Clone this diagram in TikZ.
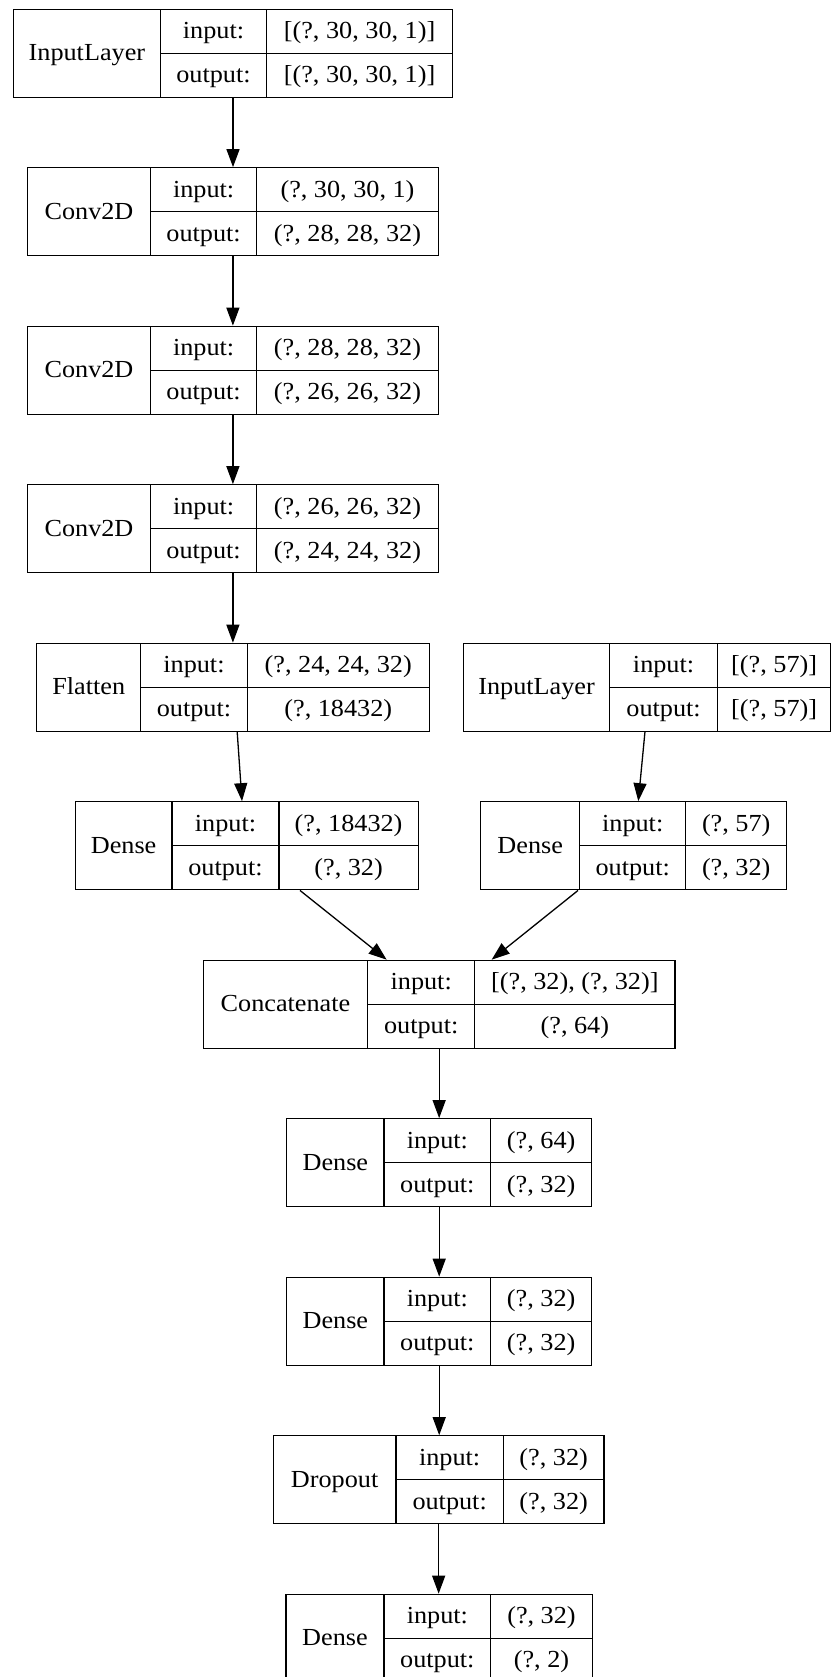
\documentclass[tikz,border=0pt]{standalone}
\usepackage{fontspec}
\setmainfont{Liberation Serif}[FakeStretch=1.07]
\usetikzlibrary{arrows.meta}

% One layer record: name, left x, first divider, second divider, right x,
% top y, layer type, input shape, output shape
\newcommand{\kerasbox}[9]{%
  \node[layerbox, minimum width={(#5-#2)*1pt}] (#1) at ({(#2+#5)/2},{#6+44}) {};
  \draw[cellline] (#3,#6) -- (#3,{#6+88});
  \draw[cellline] (#4,#6) -- (#4,{#6+88});
  \draw[cellline] (#3,{#6+44}) -- (#5,{#6+44});
  \node[txt] (#1-l)  at ({(#2+#3)/2},{#6+44+7.5}) {#7};
  \node[txt] (#1-ik) at ({(#3+#4)/2},{#6+22+7.5}) {input:};
  \node[txt] (#1-iv) at ({(#4+#5)/2},{#6+22+7.5}) {#8};
  \node[txt] (#1-ok) at ({(#3+#4)/2},{#6+66+7.5}) {output:};
  \node[txt] (#1-ov) at ({(#4+#5)/2},{#6+66+7.5}) {#9};
}

\begin{document}
\begin{tikzpicture}[x=1pt,y=-1pt,
  font=\fontsize{24.5}{29}\selectfont,
  layerbox/.style={draw, line width=1.3pt, rectangle, minimum height=88pt, inner sep=0pt},
  cellline/.style={line width=1.3pt},
  txt/.style={anchor=base, inner sep=0pt},
  arr/.style={line width=1.3pt, -{Triangle[length=18pt, width=13pt]}}]
\useasboundingbox (0,0) rectangle (830,1677);
\fill[white] (0,0) rectangle (830,1677);

\kerasbox{b0}{13.3}{160.5}{266.5}{452.7}{9.3}{InputLayer}{[(?, 30, 30, 1)]}{[(?, 30, 30, 1)]}
\kerasbox{b1}{27.3}{150.7}{256.5}{438.5}{167.8}{Conv2D}{(?, 30, 30, 1)}{(?, 28, 28, 32)}
\kerasbox{b2}{27.3}{150.7}{256.5}{438.5}{326.3}{Conv2D}{(?, 28, 28, 32)}{(?, 26, 26, 32)}
\kerasbox{b3}{27.3}{150.7}{256.5}{438.5}{484.8}{Conv2D}{(?, 26, 26, 32)}{(?, 24, 24, 32)}
\kerasbox{b4}{36.7}{140.7}{247.2}{429.3}{643.3}{Flatten}{(?, 24, 24, 32)}{(?, 18432)}
\kerasbox{b5}{463.3}{609.8}{717.3}{831}{643.3}{InputLayer}{[(?, 57)]}{[(?, 57)]}
\kerasbox{b6}{75.2}{172}{279}{418.2}{801.8}{Dense}{(?, 18432)}{(?, 32)}
\kerasbox{b7}{480.7}{579.7}{685.7}{786.7}{801.8}{Dense}{(?, 57)}{(?, 32)}
\kerasbox{b8}{203.3}{367.7}{474.7}{675}{960.3}{Concatenate}{[(?, 32), (?, 32)]}{(?, 64)}
\kerasbox{b9}{286.7}{384}{490.7}{591.7}{1118.8}{Dense}{(?, 64)}{(?, 32)}
\kerasbox{b10}{286.7}{384}{490.7}{591.7}{1277.3}{Dense}{(?, 32)}{(?, 32)}
\kerasbox{b11}{273.3}{396}{503.3}{604}{1435.8}{Dropout}{(?, 32)}{(?, 32)}
\kerasbox{b12}{286}{384}{490.7}{592.3}{1594.3}{Dense}{(?, 32)}{(?, 2)}

% connectors
\draw[arr] (b0.south) -- (b0.south |- b1.north);
\draw[arr] (b1.south) -- (b1.south |- b2.north);
\draw[arr] (b2.south) -- (b2.south |- b3.north);
\draw[arr] (b3.south) -- (b3.south |- b4.north);
\draw[arr] ([xshift=4.2pt]b4.south) -- ([xshift=-4.7pt]b6.north);
\draw[arr] ([xshift=-2.2pt]b5.south) -- ([xshift=4.6pt]b7.north);
\draw[arr] ([xshift=53.3pt]b6.south) -- ([xshift=-52.5pt]b8.north);
\draw[arr] ([xshift=-55.7pt]b7.south) -- ([xshift=52.5pt]b8.north);
\draw[arr] (b8.south) -- (b8.south |- b9.north);
\draw[arr] (b9.south) -- (b9.south |- b10.north);
\draw[arr] (b10.south) -- (b10.south |- b11.north);
\draw[arr] (b11.south) -- (b11.south |- b12.north);
\end{tikzpicture}
\end{document}
